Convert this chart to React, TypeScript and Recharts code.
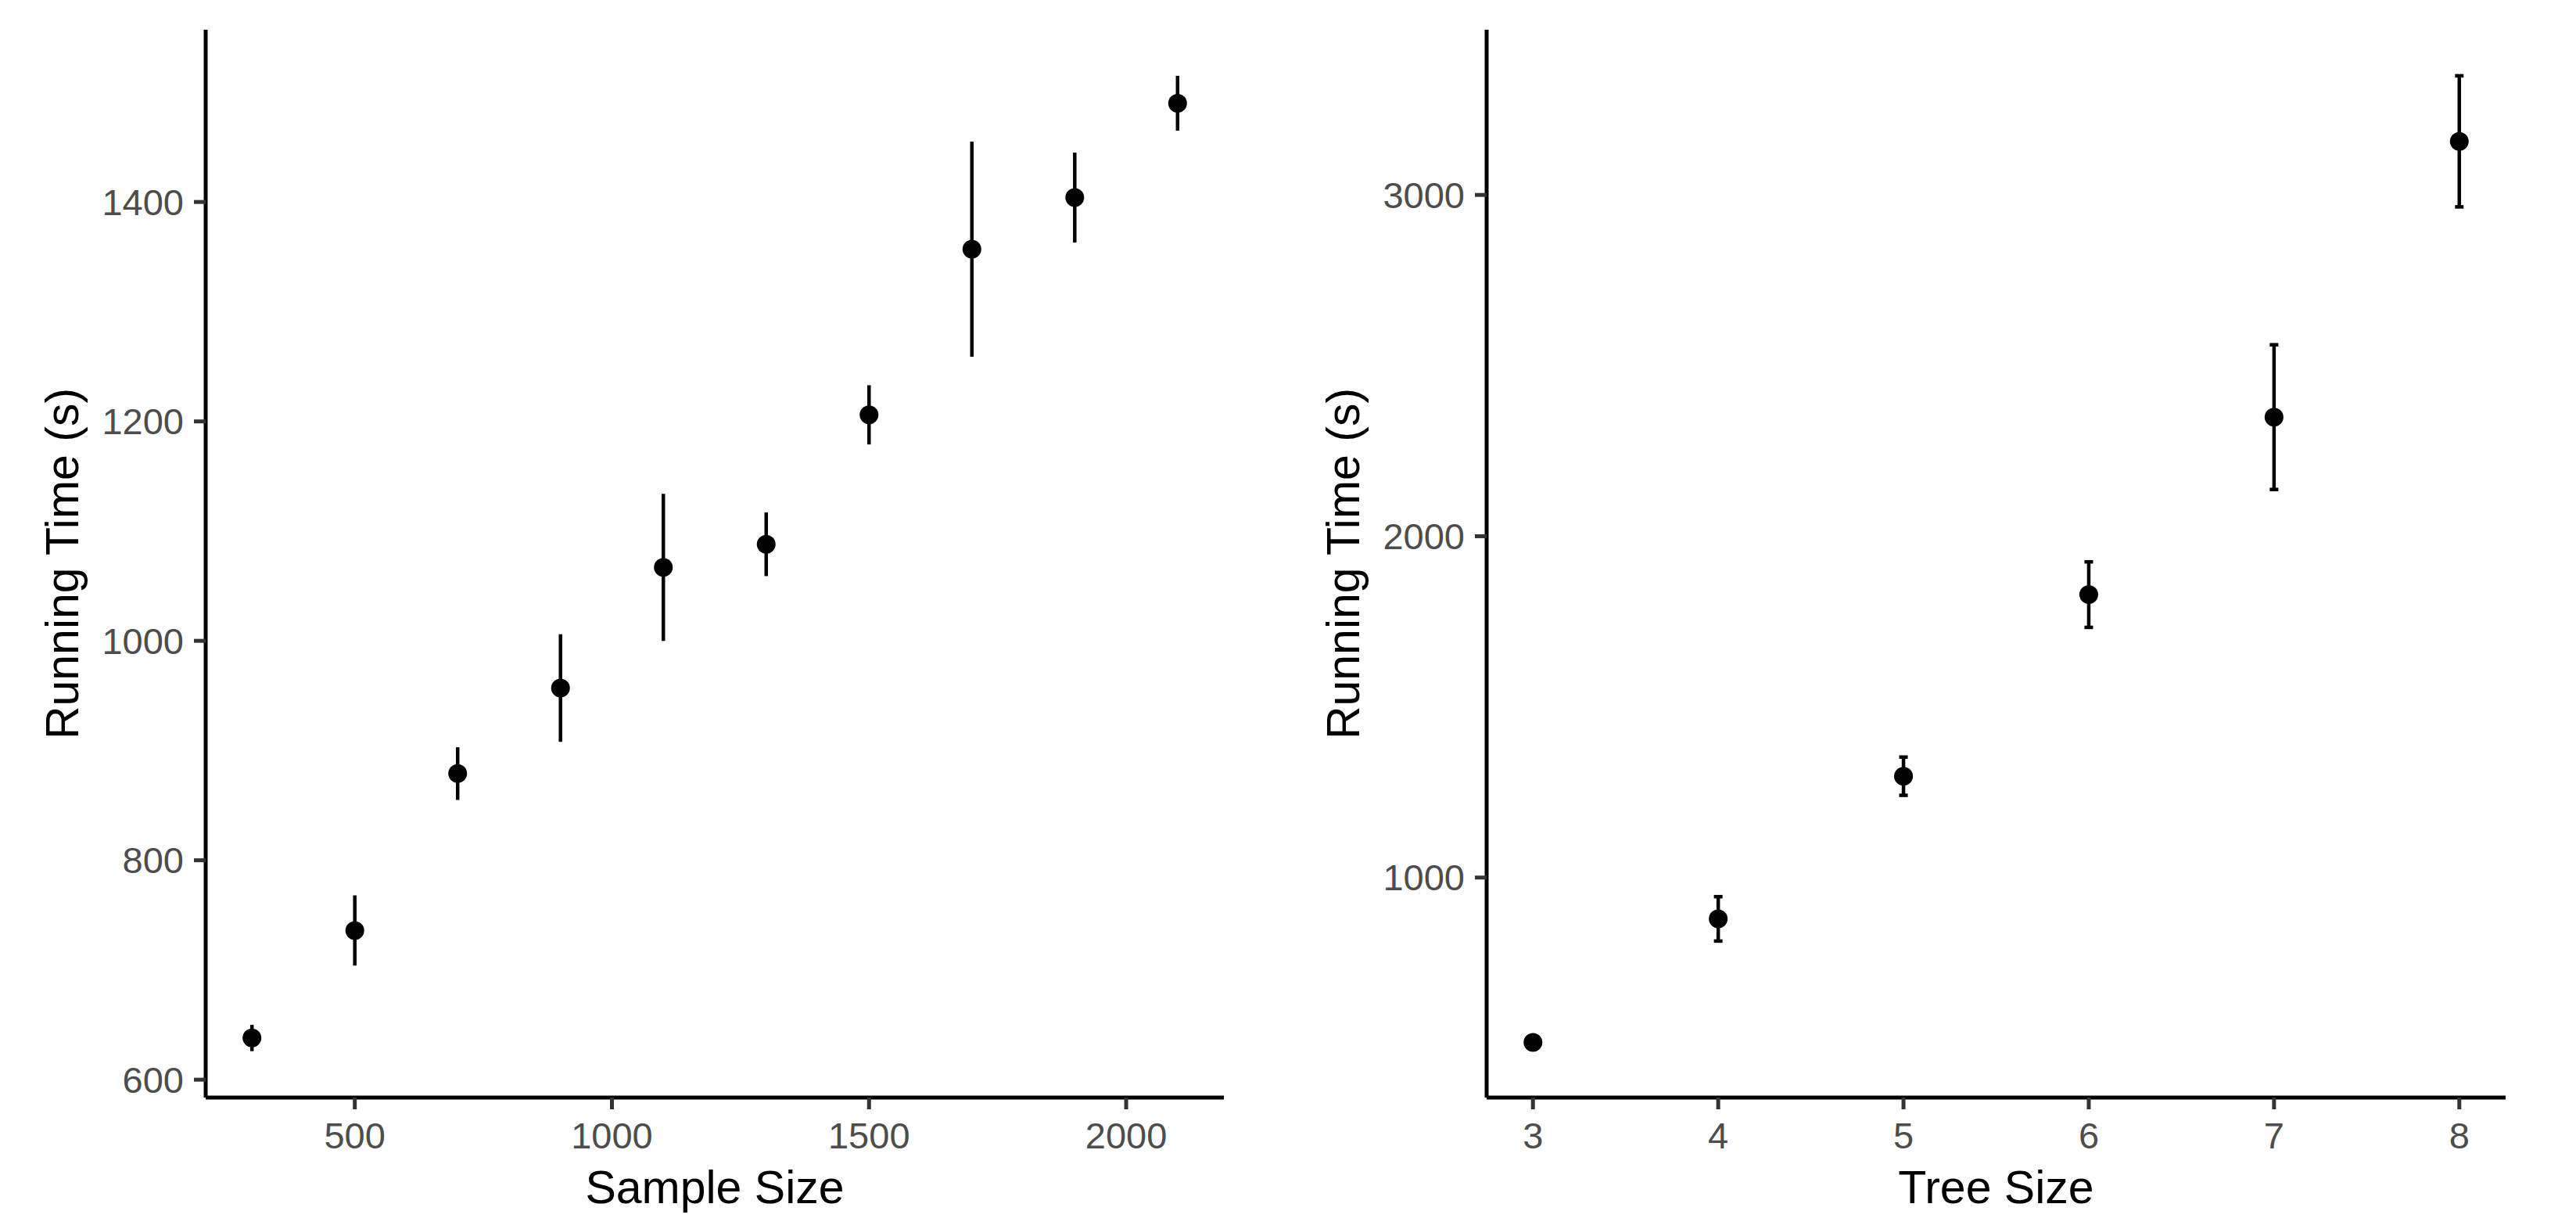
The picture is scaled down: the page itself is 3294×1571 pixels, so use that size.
import React from 'react';
import { ScatterChart, Scatter, XAxis, YAxis, ErrorBar, Label } from 'recharts';

// left panel: running time vs sample size
const sampleSizes = [300, 500, 700, 900, 1100, 1300, 1500, 1700, 1900, 2100];
const sampleTimes = [638, 736, 879, 957, 1067, 1088, 1206, 1357, 1404, 1490];
const sampleErrors = [12, 32, 24, 49, 67, 29, 27, 98, 41, 25];
const sampleXTicks = [500, 1000, 1500, 2000];
const sampleYTicks = [600, 800, 1000, 1200, 1400];

// right panel: running time vs tree size
const treeSizes = [3, 4, 5, 6, 7, 8];
const treeTimes = [517, 879, 1297, 1829, 2349, 3157];
const treeErrors = [8, 65, 56, 96, 212, 192];
const treeXTicks = [3, 4, 5, 6, 7, 8];
const treeYTicks = [1000, 2000, 3000];

const FONT = '"Liberation Sans", Arial, Helvetica, sans-serif';
const CHART_H = 1571;

const tickStyle = { fontSize: 47, fill: '#4D4D4D', fontFamily: FONT };

function Dot(props: any) {
  if (props.cx == null || props.cy == null) return null;
  return <circle cx={props.cx} cy={props.cy} r={12} fill="#000" />;
}

interface PanelProps {
  width: number;
  axisLeft: number;
  axisRight: number;
  xs: number[];
  ys: number[];
  errs: number[];
  xDomain: [number, number];
  yDomain: [number, number];
  xTicks: number[];
  yTicks: number[];
  xTitle: string;
  capWidth: number;
}

function Panel({
  width, axisLeft, axisRight, xs, ys, errs, xDomain, yDomain, xTicks, yTicks, xTitle, capWidth,
}: PanelProps) {
  const data = xs.map((x, i) => ({ x, y: ys[i], err: errs[i] }));
  const yTitleX = axisLeft - 183;

  return (
    <ScatterChart
      width={width}
      height={CHART_H}
      margin={{ top: 38, right: width - axisRight, bottom: 0, left: 0 }}
    >
      <XAxis
        type="number"
        dataKey="x"
        domain={xDomain}
        ticks={xTicks}
        allowDataOverflow
        height={168}
        axisLine={{ stroke: '#000', strokeWidth: 5 }}
        tickLine={{ stroke: '#333', strokeWidth: 5 }}
        tickSize={15}
        tickMargin={17}
        tick={tickStyle}
      >
        <Label
          content={(p: any) => {
            const vb = p.viewBox || { x: 0, width: 0 };
            return (
              <text
                x={vb.x + vb.width / 2}
                y={1538}
                textAnchor="middle"
                fontSize={59}
                fontFamily={FONT}
                fill="#000"
              >
                {xTitle}
              </text>
            );
          }}
        />
      </XAxis>
      <YAxis
        type="number"
        dataKey="y"
        domain={yDomain}
        ticks={yTicks}
        allowDataOverflow
        width={axisLeft}
        axisLine={{ stroke: '#000', strokeWidth: 5 }}
        tickLine={{ stroke: '#333', strokeWidth: 5 }}
        tickSize={15}
        tickMargin={13}
        tick={tickStyle}
      >
        <Label
          content={(p: any) => {
            const vb = p.viewBox || { y: 0, height: 0 };
            const cy = vb.y + vb.height / 2;
            return (
              <text
                x={yTitleX}
                y={cy}
                transform={`rotate(-90 ${yTitleX} ${cy})`}
                textAnchor="middle"
                dominantBaseline="central"
                fontSize={59}
                fontFamily={FONT}
                fill="#000"
              >
                Running Time (s)
              </text>
            );
          }}
        />
      </YAxis>
      <Scatter data={data} shape={<Dot />} isAnimationActive={false}>
        <ErrorBar
          dataKey="err"
          direction="y"
          width={capWidth}
          stroke="#000"
          strokeWidth={4.5}
          isAnimationActive={false}
        />
      </Scatter>
    </ScatterChart>
  );
}

export default function App() {
  return (
    <div
      style={{
        position: 'absolute',
        left: 0,
        top: 0,
        width: 3294,
        height: CHART_H,
        background: '#fff',
        display: 'flex',
      }}
    >
      <Panel
        width={1650}
        axisLeft={263}
        axisRight={1565}
        xs={sampleSizes}
        ys={sampleTimes}
        errs={sampleErrors}
        xDomain={[210, 2190]}
        yDomain={[583.7, 1557]}
        xTicks={sampleXTicks}
        yTicks={sampleYTicks}
        xTitle="Sample Size"
        capWidth={0}
      />
      <Panel
        width={1644}
        axisLeft={251}
        axisRight={1554}
        xs={treeSizes}
        ys={treeTimes}
        errs={treeErrors}
        xDomain={[2.75, 8.25]}
        yDomain={[355.4, 3484]}
        xTicks={treeXTicks}
        yTicks={treeYTicks}
        xTitle="Tree Size"
        capWidth={5.5}
      />
    </div>
  );
}
